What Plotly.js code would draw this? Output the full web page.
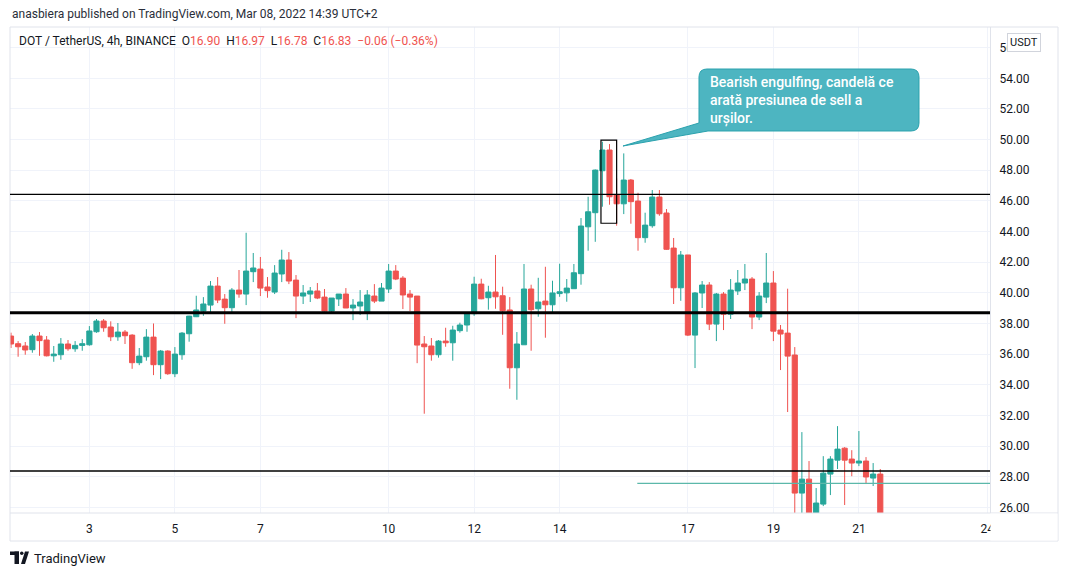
<!DOCTYPE html>
<html>
<head>
<meta charset="utf-8">
<script src="https://cdn.plot.ly/plotly-3.0.1.min.js"></script>
<style>
  html, body { margin: 0; padding: 0; background: #ffffff; }
  #chart { width: 1068px; height: 576px; }
</style>
</head>
<body>
<div id="chart"></div>
<script>
// ---- Data: DOT / TetherUS, 4h candles, from 2021-05-01 04:00 ----
const startTime = Date.UTC(2021, 4, 1, 4, 0);
const stepHours = 4;

const open = [
  37.18, 36.68, 36.53, 36.29, 37.18, 36.92, 35.89, 35.96, 36.66, 36.35,
  36.57, 36.61, 37.46, 38.16, 37.77, 37.13, 37.44, 37.24, 35.44, 35.83,
  37.11, 35.31, 36.20, 34.72, 35.96, 37.33, 38.44, 38.81, 39.20, 40.44,
  39.59, 39.03, 40.18, 39.92, 41.38, 41.55, 40.38, 40.05, 41.23, 42.14,
  40.83, 39.79, 39.92, 40.12, 39.72, 38.81, 39.60, 39.92, 39.01, 39.14,
  38.75, 39.79, 39.46, 40.25, 41.42, 40.96, 39.92, 39.79, 36.66, 36.53,
  35.96, 36.85, 36.74, 37.53, 37.90, 38.64, 40.57, 39.68, 40.05, 39.81,
  38.88, 35.11, 36.61, 40.25, 38.96, 39.46, 39.22, 39.95, 40.00, 40.27,
  41.25, 44.31, 45.23, 47.97, 49.32, 46.38, 45.81, 47.36, 45.99, 43.60,
  44.38, 46.25, 45.21, 42.92, 40.33, 42.47, 37.24, 39.99, 40.51, 37.96,
  39.92, 38.61, 40.12, 40.64, 40.90, 38.42, 39.72, 40.64, 37.57, 37.37,
  35.94, 26.93, 27.84, 24.90, 26.21, 28.17, 29.08, 29.86, 29.15, 28.89,
  29.02, 27.91, 28.17
];
const high = [
  37.40, 36.85, 36.79, 37.31, 37.44, 37.18, 36.53, 37.05, 36.92, 36.85,
  36.98, 37.83, 38.29, 38.29, 38.14, 38.03, 37.57, 37.30, 36.40, 37.63,
  38.00, 36.27, 36.25, 36.46, 37.44, 38.50, 39.81, 39.72, 40.77, 41.03,
  39.92, 40.31, 41.49, 43.92, 42.60, 42.34, 41.03, 41.81, 42.81, 42.66,
  41.16, 40.51, 40.38, 40.64, 40.25, 39.66, 39.92, 40.31, 39.59, 40.18,
  40.18, 40.57, 40.64, 41.88, 41.81, 41.09, 40.18, 39.79, 37.18, 37.05,
  36.92, 37.72, 37.85, 38.05, 38.70, 41.05, 40.92, 40.46, 42.47, 40.40,
  39.72, 37.44, 41.88, 40.53, 40.98, 41.70, 40.79, 41.90, 40.90, 41.88,
  44.88, 46.27, 48.05, 49.86, 49.71, 47.47, 49.10, 47.43, 46.53, 45.23,
  46.71, 46.71, 45.47, 43.58, 42.73, 42.47, 40.05, 40.77, 40.70, 39.99,
  40.05, 40.90, 41.49, 41.88, 41.03, 40.05, 42.60, 41.42, 37.90, 40.27,
  36.46, 30.91, 29.02, 27.26, 29.34, 29.34, 31.30, 29.93, 29.73, 30.98,
  29.28, 28.89, 28.50
];
const low = [
  36.40, 35.83, 35.96, 36.09, 35.89, 35.85, 35.50, 35.63, 36.22, 36.15,
  36.22, 36.55, 37.39, 37.46, 36.85, 36.87, 36.66, 35.04, 35.28, 35.57,
  34.63, 34.37, 34.65, 34.50, 35.63, 36.81, 38.42, 38.50, 38.68, 39.33,
  37.98, 38.70, 39.68, 39.20, 40.70, 39.79, 39.68, 39.92, 40.70, 40.57,
  38.35, 39.27, 39.40, 39.59, 38.78, 38.68, 39.14, 39.01, 38.22, 38.55,
  38.22, 39.33, 39.46, 39.99, 40.83, 38.94, 38.81, 35.41, 32.11, 35.57,
  35.77, 36.48, 35.57, 37.40, 37.46, 38.50, 39.58, 38.90, 38.96, 37.26,
  33.74, 33.02, 36.61, 36.22, 38.44, 37.07, 38.70, 39.74, 39.42, 40.27,
  40.53, 42.75, 43.33, 45.62, 45.75, 44.38, 45.14, 44.51, 42.75, 43.27,
  44.25, 45.03, 42.80, 39.27, 39.48, 37.18, 35.09, 39.01, 37.57, 36.85,
  37.57, 38.29, 39.86, 40.18, 37.63, 38.22, 39.33, 36.85, 34.96, 32.22,
  20.00, 23.00, 22.50, 23.50, 26.08, 26.80, 28.50, 26.15, 28.03, 28.69,
  27.52, 27.39, 23.00
];
const close = [
  36.66, 36.48, 36.27, 37.18, 36.88, 35.89, 36.00, 36.66, 36.35, 36.57,
  36.68, 37.51, 38.16, 37.72, 37.13, 37.44, 37.20, 35.44, 35.87, 37.11,
  35.31, 36.20, 34.72, 36.00, 37.37, 38.48, 38.88, 39.27, 40.44, 39.53,
  39.03, 40.18, 39.92, 41.42, 41.62, 40.31, 40.14, 41.29, 42.14, 40.77,
  39.79, 39.99, 40.12, 39.66, 38.81, 39.66, 39.92, 39.01, 39.20, 39.40,
  39.86, 39.46, 40.31, 41.42, 40.90, 39.86, 39.72, 36.59, 36.48, 35.96,
  36.85, 36.74, 37.57, 37.90, 38.64, 40.57, 39.61, 40.05, 39.74, 38.83,
  35.11, 36.66, 40.25, 38.90, 39.40, 39.22, 39.99, 40.07, 40.31, 41.31,
  44.36, 45.29, 48.01, 49.32, 46.27, 45.81, 47.36, 45.95, 43.60, 44.42,
  46.25, 45.16, 42.84, 40.33, 42.47, 37.24, 39.99, 40.51, 37.96, 39.92,
  38.61, 40.18, 40.64, 40.90, 38.42, 39.79, 40.64, 37.50, 37.31, 35.87,
  26.93, 27.84, 24.80, 26.28, 28.23, 29.15, 29.80, 29.08, 28.89, 29.02,
  27.98, 28.17, 24.50
];

// Day ticks on the time axis
const tickDays = [3, 5, 7, 10, 12, 14, 17, 19, 21, 24];
const tickLabels = ['3', '5', '7', '10', '12', '14', '17', '19', '21', '24'];

// Drawn levels (horizontal lines) and marked box
const resistanceLevel = 46.43;
const pivotLevel = 38.70;
const supportLevel = 28.37;
const rayLevel = 27.56;
const boxTop = 49.97;
const boxBottom = 44.54;

// ---- Build ----
const stepMs = stepHours * 3600 * 1000;
const times = open.map((_, i) => new Date(startTime + i * stepMs));
const tAt = (idx) => new Date(startTime + idx * stepMs);
const tickVals = tickDays.map(d => new Date(Date.UTC(2021, 4, d, 0, 0)));

// pixel -> paper helpers (plot area x:10..990, y:27..513)
const PX = (px) => (px - 10) / 980;
const PY = (py) => (513 - py) / 486;

const trace = {
  type: 'candlestick',
  x: times, open: open, high: high, low: low, close: close,
  increasing: { line: { color: '#26a69a', width: 1 }, fillcolor: '#26a69a' },
  decreasing: { line: { color: '#ef5350', width: 1 }, fillcolor: '#ef5350' },
  whiskerwidth: 0,
  hoverinfo: 'skip',
  showlegend: false
};

// callout box path (rounded rect with tail toward the marked candle)
function P(px, py) { return PX(px).toFixed(5) + ',' + PY(py).toFixed(5); }
const bx0 = 699, bx1 = 919, by0 = 69, by1 = 131, r = 8;
const calloutPath =
  'M' + P(bx0 + r, by0) +
  ' L' + P(bx1 - r, by0) +
  ' Q' + P(bx1, by0) + ' ' + P(bx1, by0 + r) +
  ' L' + P(bx1, by1 - r) +
  ' Q' + P(bx1, by1) + ' ' + P(bx1 - r, by1) +
  ' L' + P(708, by1) +
  ' L' + P(623, 146) +
  ' L' + P(bx0, 123) +
  ' L' + P(bx0, by0 + r) +
  ' Q' + P(bx0, by0) + ' ' + P(bx0 + r, by0) + ' Z';

const frameColor = '#e0e3eb';
const shapes = [
  // outer frame
  { type: 'rect', xref: 'paper', yref: 'paper', x0: PX(10), x1: PX(1058), y0: PY(541), y1: PY(27),
    line: { color: frameColor, width: 1 }, fillcolor: 'rgba(0,0,0,0)', layer: 'above' },
  // x-axis separator across to the right frame
  { type: 'line', xref: 'paper', yref: 'paper', x0: PX(10), x1: PX(1058), y0: PY(513), y1: PY(513),
    line: { color: frameColor, width: 1 }, layer: 'above' },
  // cover for the clipped "24" beyond the plot
  { type: 'rect', xref: 'paper', yref: 'paper', x0: PX(990.5), x1: PX(1057.5), y0: PY(540.5), y1: PY(513.5),
    line: { width: 0 }, fillcolor: '#ffffff', layer: 'above' },
  // horizontal levels
  { type: 'line', xref: 'paper', yref: 'y', x0: 0, x1: 1, y0: resistanceLevel, y1: resistanceLevel,
    line: { color: '#000000', width: 1.3 } },
  { type: 'line', xref: 'paper', yref: 'y', x0: 0, x1: 1, y0: pivotLevel, y1: pivotLevel,
    line: { color: '#000000', width: 3 } },
  { type: 'line', xref: 'paper', yref: 'y', x0: 0, x1: 1, y0: supportLevel, y1: supportLevel,
    line: { color: '#000000', width: 1.3 } },
  { type: 'line', xref: 'x', yref: 'y', x0: tAt(87.9), x1: tAt(137.5), y0: rayLevel, y1: rayLevel,
    line: { color: '#5bb8aa', width: 1.2 } },
  // box around the engulfing pattern
  { type: 'rect', xref: 'x', yref: 'y', x0: tAt(82.8), x1: tAt(85.0), y0: boxBottom, y1: boxTop,
    line: { color: '#000000', width: 1.2 }, fillcolor: 'rgba(0,0,0,0)' },
  // callout
  { type: 'path', xref: 'paper', yref: 'paper', path: calloutPath,
    fillcolor: '#4db5c1', line: { color: '#2ba2ae', width: 1 }, layer: 'above' },
  // TradingView logo (footer)
  { type: 'rect', xref: 'paper', yref: 'paper', x0: PX(10), x1: PX(19), y0: PY(555), y1: PY(551.5),
    line: { width: 0 }, fillcolor: '#131722', layer: 'above' },
  { type: 'rect', xref: 'paper', yref: 'paper', x0: PX(14.5), x1: PX(19), y0: PY(564), y1: PY(551.5),
    line: { width: 0 }, fillcolor: '#131722', layer: 'above' },
  { type: 'circle', xref: 'paper', yref: 'paper', x0: PX(20), x1: PX(23.5), y0: PY(555), y1: PY(551.5),
    line: { width: 0 }, fillcolor: '#131722', layer: 'above' },
  { type: 'path', xref: 'paper', yref: 'paper',
    path: 'M' + P(21, 564) + ' L' + P(25, 551.5) + ' L' + P(29, 551.5) + ' L' + P(25, 564) + ' Z',
    line: { width: 0 }, fillcolor: '#131722', layer: 'above' }
];

const annotations = [
  { xref: 'paper', yref: 'paper', x: PX(10), y: PY(14), xanchor: 'left', yanchor: 'middle',
    text: 'anasbiera published on TradingView.com, Mar 08, 2022 14:39 UTC+2',
    showarrow: false, font: { family: 'Roboto, sans-serif', size: 12, color: '#2a2e39' } },
  { xref: 'paper', yref: 'paper', x: PX(17), y: PY(41), xanchor: 'left', yanchor: 'middle',
    text: 'DOT / TetherUS, 4h, BINANCE  O<span style="color:#ef5350">16.90</span>  H<span style="color:#ef5350">16.97</span>  L<span style="color:#ef5350">16.78</span>  C<span style="color:#ef5350">16.83</span>  <span style="color:#ef5350">−0.06 (−0.36%)</span>',
    showarrow: false, font: { family: 'Roboto, sans-serif', size: 12, color: '#131722' } },
  { xref: 'paper', yref: 'paper', x: PX(1024), y: PY(43), xanchor: 'center', yanchor: 'middle',
    text: 'USDT', showarrow: false, bgcolor: '#ffffff', bordercolor: '#d1d4dc', borderwidth: 1, borderpad: 2,
    font: { family: 'Roboto, sans-serif', size: 11, color: '#131722' } },
  { xref: 'paper', yref: 'paper', x: PX(708), y: PY(100), xanchor: 'left', yanchor: 'middle', align: 'left',
    text: 'Bearish engulfing, candelă ce<br>arată presiunea de sell a<br>urșilor.',
    showarrow: false, font: { family: 'Roboto, sans-serif', size: 14, color: '#ffffff', weight: 500 } },
  { xref: 'paper', yref: 'paper', x: PX(32), y: PY(558), xanchor: 'left', yanchor: 'middle',
    text: 'TradingView', showarrow: false,
    font: { family: 'Roboto, sans-serif', size: 13, color: '#131722' } }
];

const layout = {
  width: 1068, height: 576,
  margin: { l: 10, r: 78, t: 27, b: 63 },
  paper_bgcolor: '#ffffff', plot_bgcolor: '#ffffff',
  font: { family: 'Roboto, sans-serif', size: 12, color: '#131722' },
  showlegend: false,
  hovermode: false,
  boxgap: 0.15, boxgroupgap: 0.15,
  xaxis: {
    type: 'date',
    range: [tAt(-0.14), tAt(137.4)],
    rangeslider: { visible: false },
    tickvals: tickVals, ticktext: tickLabels,
    showgrid: true, gridcolor: '#f0f3fa', gridwidth: 1,
    zeroline: false, showline: false,
    ticks: '', ticklabelstandoff: 7,
    tickfont: { family: 'Roboto, sans-serif', size: 12, color: '#131722' },
    fixedrange: true
  },
  yaxis: {
    side: 'right',
    range: [25.63, 57.35],
    dtick: 2, tick0: 0, tickformat: '.2f',
    showgrid: true, gridcolor: '#f0f3fa', gridwidth: 1,
    zeroline: false, showline: true, linecolor: frameColor, linewidth: 1,
    ticks: '', ticklabelstandoff: 6,
    tickfont: { family: 'Roboto, sans-serif', size: 12, color: '#131722' },
    fixedrange: true
  },
  shapes: shapes,
  annotations: annotations
};

Plotly.newPlot('chart', [trace], layout, { displayModeBar: false, staticPlot: true });
</script>
</body>
</html>
